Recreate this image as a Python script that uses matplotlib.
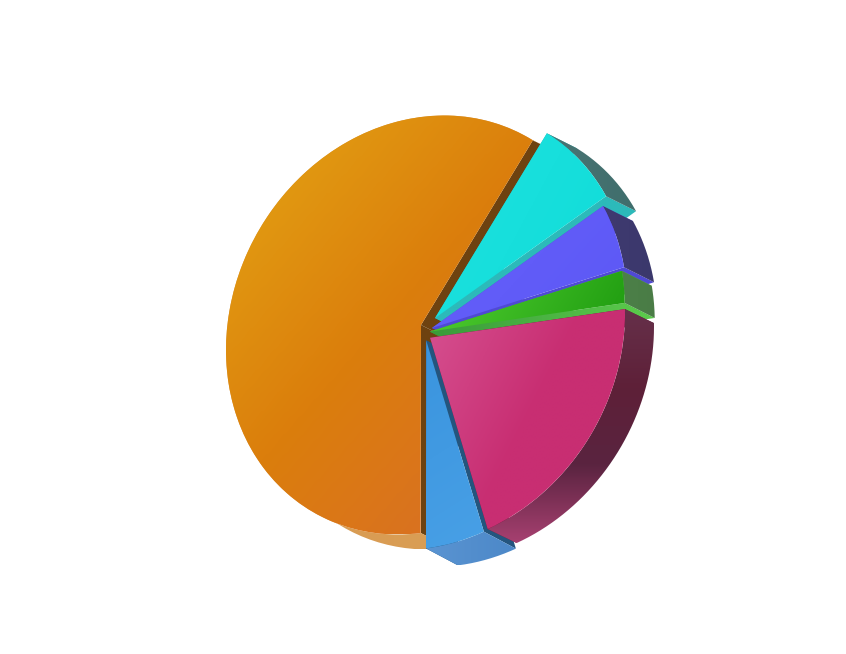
import numpy as np
import matplotlib
matplotlib.use('Agg')
import matplotlib.pyplot as plt
from matplotlib.colors import LinearSegmentedColormap
from matplotlib.patches import PathPatch, Wedge
from matplotlib.path import Path
from matplotlib.transforms import Affine2D

# share of each slice, going round from the orange/cyan cut
values = [7.3, 5.2, 2.5, 20.5, 4.8, 59.7]
explode = [0.076, 0.076, 0.076, 0.076, 0.076, 0.0]

# colour ramps: top face, outer side, cut face
top_cols = [
    ['#1ee2e0', '#10dcd8'],
    ['#6660fb', '#5c58f5'],
    ['#52d032', '#1f9c10'],
    ['#d65090', '#c82e72', '#c82e72'],
    ['#3a94de', '#48a0e6'],
    ['#e4a614', '#db7e0c', '#d96c2a'],
]
top_angles = [30, 30, 10, 30, 80, 50]
side_cols = [
    ['#4a7474', '#3f6e6c'],
    ['#3f3a70', '#3b386c'],
    ['#4c8048', '#4a7c46'],
    ['#66304a', '#5e2038', '#5a2440', '#a64070'],
    ['#5a94d2', '#4c88c8'],
    ['#d99a50', '#d9a058'],
]
side_angles = [0, 0, 0, 90, 0, 0]
wall_cols = [
    ['#2cbaba'],
    ['#504ad4'],
    ['#3a9a3a', '#5ccc4c'],
    ['#5e2038'],
    ['#24557e'],
    ['#6e4210'],
]

# how the pie plane lies on the page
cx, cy = 421, 325
ax_x, ax_y, ay_y = 195, -25, 208
depth_x = [30, 30, 30, 29, 32, 30]
depth_y = [15, 15, 15, 14, 17, 15]
nudge_x = [3, -3, -6, -3, 3, 0]
nudge_y = [5, 10, 10, 5, 0, 0]
start = -55

fig = plt.figure(figsize=(8.46, 6.54), dpi=100)
ax = fig.add_axes([0, 0, 1, 1])
ax.set_axis_off()

plane = Affine2D(np.array([[ax_x, 0, 0], [ax_y, ay_y, 0], [0, 0, 1.0]]))
z = [1]


def paint(path, cols, angle):
    # gradient image cut out by the path
    z[0] += 1
    if len(cols) == 1:
        cols = cols * 2
    cmap = LinearSegmentedColormap.from_list('g', cols)
    (x0, y0), (x1, y1) = path.get_extents().get_points()
    xx, yy = np.meshgrid(np.linspace(0, 1, 120), np.linspace(0, 1, 120))
    a = np.radians(angle)
    g = xx * np.cos(a) + yy * np.sin(a)
    g = (g - g.min()) / (g.max() - g.min())
    im = ax.imshow(g, cmap=cmap, extent=(x0, x1, y1, y0), aspect='auto',
                   interpolation='bilinear', zorder=z[0])
    patch = PathPatch(path, transform=ax.transData, fc='none', ec='none')
    im.set_clip_path(patch)


def arc(t1, t2, off):
    t = np.radians(np.linspace(t1, t2, 80))
    x = ax_x * np.cos(t)
    y = ax_y * np.cos(t) + ay_y * np.sin(t)
    return np.column_stack([x + off[0], y + off[1]])


angles = start + np.cumsum([0] + values) * 3.6
slices = []
for i in range(len(values)):
    t1, t2 = angles[i], angles[i + 1]
    mid = np.radians((t1 + t2) / 2)
    ox = cx + explode[i] * ax_x * np.cos(mid) + nudge_x[i]
    oy = cy + explode[i] * (ax_y * np.cos(mid) + ay_y * np.sin(mid)) + nudge_y[i]
    slices.append((i, t1, t2, ox, oy))

# back to front, blue goes before pink so pink sits on its cut face
for i, t1, t2, ox, oy in [slices[k] for k in (5, 0, 1, 2, 4, 3)]:
    depth = (depth_x[i], depth_y[i])
    outer = arc(t1, t2, (ox, oy))
    moved = outer + depth
    side = Path(np.vstack([outer, moved[::-1], outer[:1]]))
    # cut faces at both ends of the slice
    for end in (outer[0], outer[-1]):
        wall = np.array([(ox, oy), end, end + depth, (ox + depth[0], oy + depth[1]), (ox, oy)])
        paint(Path(wall), wall_cols[i], 0)
    paint(side, side_cols[i], side_angles[i])
    top = Wedge((0, 0), 1, t1, t2).get_path()
    top = top.transformed(plane + Affine2D().translate(ox, oy))
    paint(top, top_cols[i], top_angles[i])

ax.set_xlim(0, 846)
ax.set_ylim(654, 0)
fig.savefig('out.png', dpi=100, facecolor='white')
